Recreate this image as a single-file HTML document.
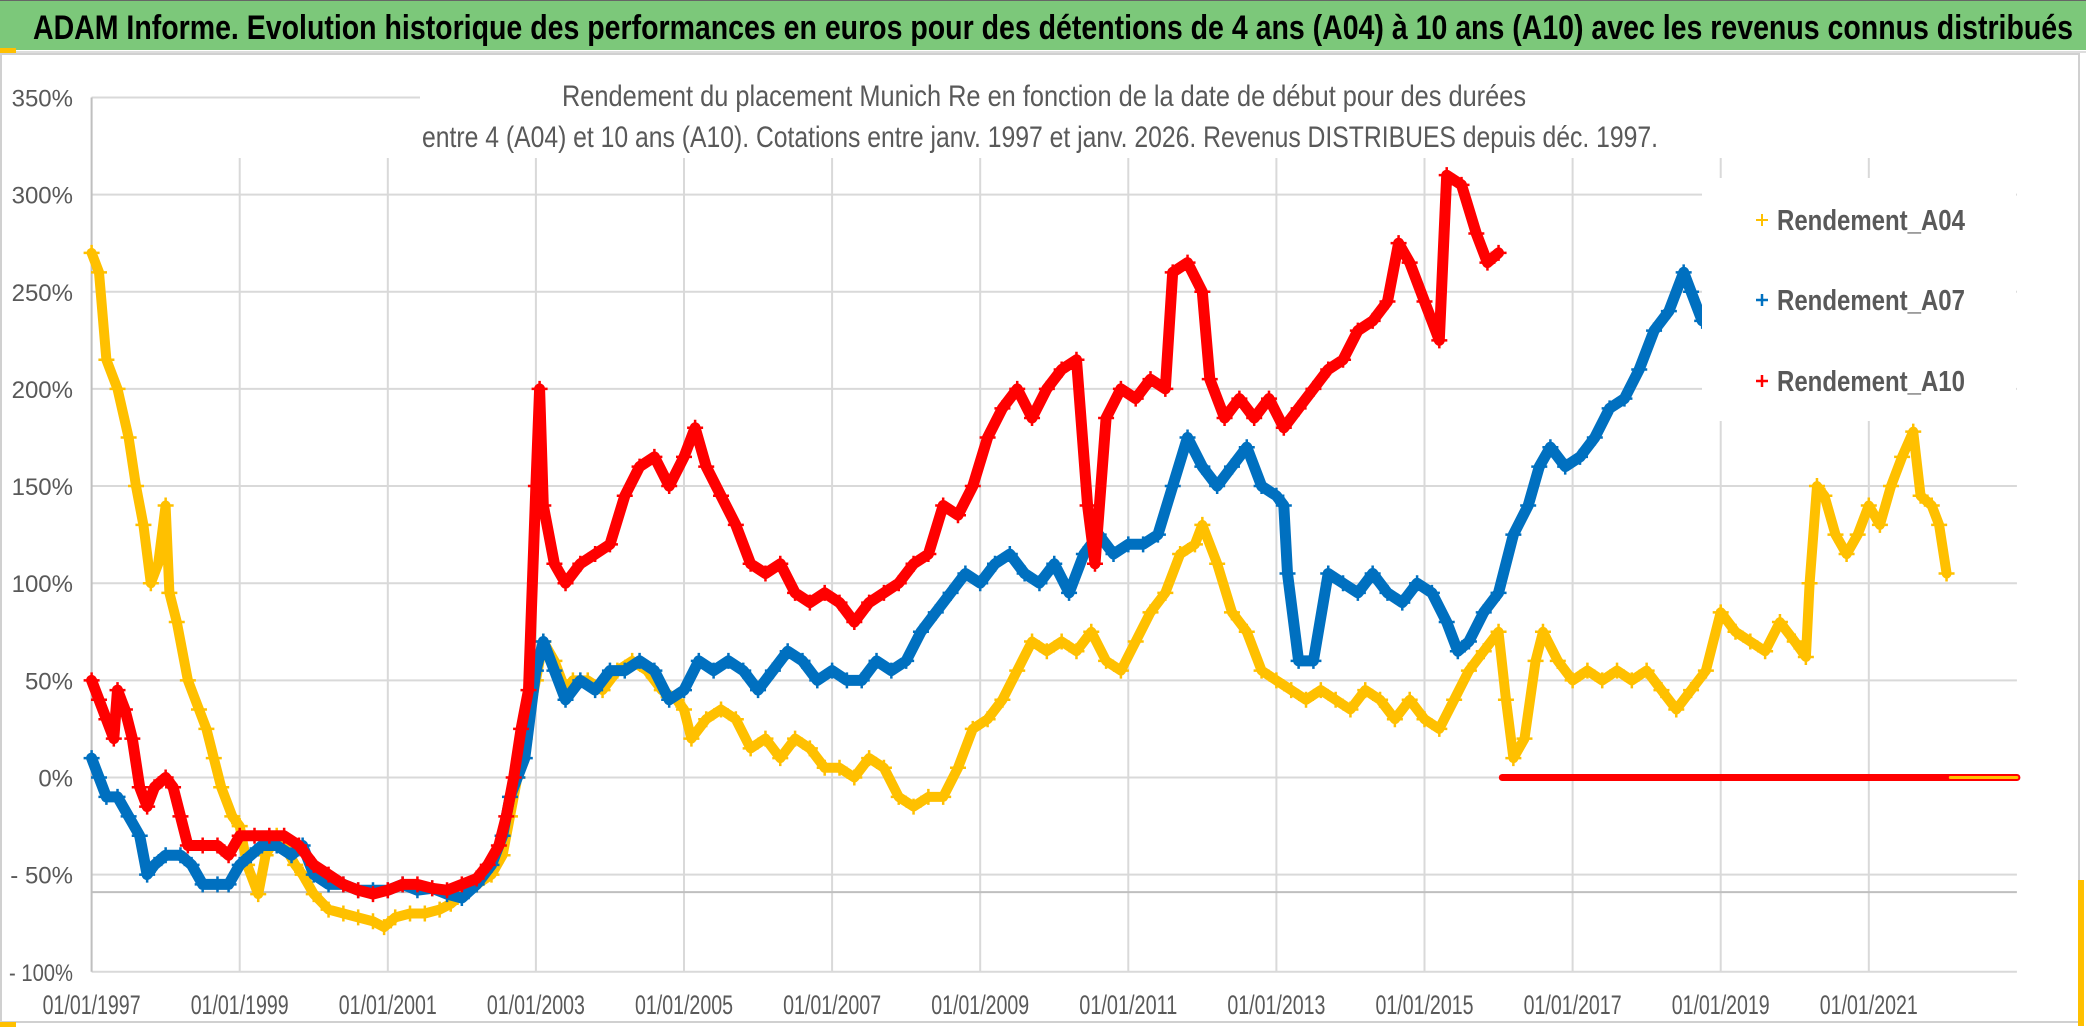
<!DOCTYPE html>
<html><head><meta charset="utf-8"><style>
html,body{margin:0;padding:0;background:#fff;}
svg{display:block;font-family:"Liberation Sans Narrow","Liberation Sans",sans-serif;}
</style></head><body>
<svg id="chart" width="2086" height="1031" viewBox="0 0 2086 1031" xmlns="http://www.w3.org/2000/svg">
<rect x="0" y="0" width="2086" height="1031" fill="#fff"/>
<rect x="0" y="0" width="2086" height="50" fill="#7cc87a"/>
<line x1="0" y1="0.5" x2="2086" y2="0.5" stroke="#666"/>
<line x1="0" y1="52" x2="2086" y2="52" stroke="#ddd" stroke-width="2"/>
<rect x="0" y="48" width="16" height="5" fill="#ffc000"/>
<text x="33" y="39" font-size="34" font-weight="bold" fill="#000" textLength="2040" lengthAdjust="spacingAndGlyphs">ADAM Informe. Evolution historique des performances en euros pour des détentions de 4 ans (A04) à 10 ans (A10) avec les revenus connus distribués</text>
<rect x="1" y="54" width="2078" height="968" fill="none" stroke="#d0d0d0" stroke-width="2"/>
<rect x="2078" y="880" width="6" height="146" fill="#ffc000"/>
<rect x="0" y="1022" width="16" height="5" fill="#ffc000"/>
<g id="grid"></g>
<g id="series"></g>
<rect x="420" y="62" width="1300" height="96" fill="#fff"/>
<text x="1044" y="106" font-size="30" fill="#595959" text-anchor="middle" textLength="964" lengthAdjust="spacingAndGlyphs">Rendement du placement Munich Re en fonction de la date de début pour des durées</text>
<text x="1040" y="147" font-size="30" fill="#595959" text-anchor="middle" textLength="1236" lengthAdjust="spacingAndGlyphs">entre 4 (A04) et 10 ans (A10). Cotations entre janv. 1997 et janv. 2026. Revenus DISTRIBUES depuis déc. 1997.</text>
<g>
<rect x="1702" y="178" width="314" height="243" fill="#fff"/>
<g><path d="M1756 220h12M1762 214v12" stroke="#ffc000" stroke-width="2"/><text x="1777" y="230" font-size="29" font-weight="bold" fill="#595959" textLength="188" lengthAdjust="spacingAndGlyphs">Rendement_A04</text></g>
<g><path d="M1756 300h12M1762 294v12" stroke="#0070c0" stroke-width="2.5"/><text x="1777" y="310" font-size="29" font-weight="bold" fill="#595959" textLength="188" lengthAdjust="spacingAndGlyphs">Rendement_A07</text></g>
<g><path d="M1756 381h12M1762 375v12" stroke="#ff0000" stroke-width="2.5"/><text x="1777" y="391" font-size="29" font-weight="bold" fill="#595959" textLength="188" lengthAdjust="spacingAndGlyphs">Rendement_A10</text></g>
</g>
</svg>
<script>
const yTicks = [350,300,250,200,150,100,50,0,-50,-100];
const yTickLabels = ["350%","300%","250%","200%","150%","100%","50%","0%","- 50%","- 100%"];
const xTicks = [1997,1999,2001,2003,2005,2007,2009,2011,2013,2015,2017,2019,2021];
const xTickLabels = ["01/01/1997","01/01/1999","01/01/2001","01/01/2003","01/01/2005","01/01/2007","01/01/2009","01/01/2011","01/01/2013","01/01/2015","01/01/2017","01/01/2019","01/01/2021"];
const axisCrossing = -59;

const a04Dates = [1997.0,1997.1,1997.2,1997.35,1997.5,1997.6,1997.7,1997.8,1997.9,1998.0,1998.05,1998.15,1998.3,1998.45,1998.55,1998.65,1998.75,1998.9,1999.0,1999.1,1999.25,1999.35,1999.5,1999.6,1999.75,1999.85,2000.0,2000.2,2000.4,2000.6,2000.8,2000.95,2001.1,2001.3,2001.5,2001.7,2001.85,2002.0,2002.2,2002.4,2002.55,2002.65,2002.75,2002.85,2003.0,2003.1,2003.25,2003.4,2003.5,2003.7,2003.9,2004.1,2004.3,2004.5,2004.7,2004.9,2005.0,2005.1,2005.3,2005.5,2005.7,2005.9,2006.1,2006.3,2006.5,2006.7,2006.9,2007.1,2007.3,2007.5,2007.7,2007.9,2008.1,2008.3,2008.5,2008.7,2008.9,2009.1,2009.3,2009.5,2009.7,2009.9,2010.1,2010.3,2010.5,2010.7,2010.9,2011.1,2011.3,2011.5,2011.7,2011.9,2012.0,2012.2,2012.4,2012.6,2012.8,2013.0,2013.2,2013.4,2013.6,2013.8,2014.0,2014.2,2014.4,2014.6,2014.8,2015.0,2015.2,2015.4,2015.6,2015.8,2016.0,2016.1,2016.2,2016.35,2016.5,2016.6,2016.8,2017.0,2017.2,2017.4,2017.6,2017.8,2018.0,2018.2,2018.4,2018.6,2018.8,2019.0,2019.2,2019.4,2019.6,2019.8,2020.0,2020.15,2020.2,2020.3,2020.4,2020.55,2020.7,2020.85,2021.0,2021.15,2021.3,2021.45,2021.6,2021.7,2021.85,2021.95,2022.05];
const a04Values = [270,260,215,200,175,150,130,100,110,140,95,80,50,35,25,10,-5,-20,-25,-45,-60,-40,-30,-35,-45,-50,-60,-68,-70,-72,-74,-77,-72,-70,-70,-68,-65,-60,-55,-50,-40,-20,0,20,50,70,60,45,50,50,45,55,60,55,45,40,35,20,30,35,30,15,20,10,20,15,5,5,0,10,5,-10,-15,-10,-10,5,25,30,40,55,70,65,70,65,75,60,55,70,85,95,115,120,130,110,85,75,55,50,45,40,45,40,35,45,40,30,40,30,25,40,55,65,75,40,10,20,60,75,60,50,55,50,55,50,55,45,35,45,55,85,75,70,65,80,70,62,100,150,145,125,115,125,140,130,150,165,178,145,140,130,105];
const a04ZeroDates = [2022.1,2023.0];
const a04ZeroValues = [0,0];

const a07Dates = [1997.0,1997.1,1997.2,1997.35,1997.5,1997.65,1997.75,1997.85,1998.0,1998.2,1998.35,1998.5,1998.7,1998.85,1999.0,1999.15,1999.3,1999.5,1999.7,1999.85,2000.0,2000.2,2000.4,2000.6,2000.8,2001.0,2001.2,2001.4,2001.6,2001.8,2002.0,2002.2,2002.4,2002.55,2002.65,2002.75,2002.85,2003.0,2003.1,2003.25,2003.4,2003.6,2003.8,2004.0,2004.2,2004.4,2004.6,2004.8,2005.0,2005.2,2005.4,2005.6,2005.8,2006.0,2006.2,2006.4,2006.6,2006.8,2007.0,2007.2,2007.4,2007.6,2007.8,2008.0,2008.2,2008.4,2008.6,2008.8,2009.0,2009.2,2009.4,2009.6,2009.8,2010.0,2010.2,2010.4,2010.6,2010.8,2011.0,2011.2,2011.4,2011.6,2011.8,2012.0,2012.2,2012.4,2012.6,2012.8,2013.0,2013.1,2013.15,2013.3,2013.5,2013.7,2013.9,2014.1,2014.3,2014.5,2014.7,2014.9,2015.1,2015.3,2015.45,2015.6,2015.8,2016.0,2016.2,2016.4,2016.55,2016.7,2016.9,2017.1,2017.3,2017.5,2017.7,2017.9,2018.1,2018.3,2018.5,2018.6,2018.75];
const a07Values = [10,0,-10,-10,-20,-30,-50,-45,-40,-40,-45,-55,-55,-55,-45,-40,-35,-35,-40,-35,-50,-55,-55,-58,-58,-58,-55,-58,-57,-60,-62,-55,-45,-30,-10,0,10,55,70,55,40,50,45,55,55,60,55,40,45,60,55,60,55,45,55,65,60,50,55,50,50,60,55,60,75,85,95,105,100,110,115,105,100,110,95,115,125,115,120,120,125,150,175,160,150,160,170,150,145,140,105,60,60,105,100,95,105,95,90,100,95,80,65,70,85,95,125,140,160,170,160,165,175,190,195,210,230,240,260,250,235];

const a10Dates = [1997.0,1997.1,1997.2,1997.3,1997.35,1997.45,1997.55,1997.65,1997.75,1997.85,1998.0,1998.1,1998.2,1998.3,1998.5,1998.7,1998.85,1999.0,1999.2,1999.4,1999.6,1999.8,2000.0,2000.2,2000.4,2000.6,2000.8,2001.0,2001.2,2001.4,2001.6,2001.8,2002.0,2002.2,2002.35,2002.5,2002.6,2002.7,2002.8,2002.9,2003.0,2003.05,2003.1,2003.25,2003.4,2003.6,2003.8,2004.0,2004.2,2004.4,2004.6,2004.8,2005.0,2005.15,2005.3,2005.5,2005.7,2005.9,2006.1,2006.3,2006.5,2006.7,2006.9,2007.1,2007.3,2007.5,2007.7,2007.9,2008.1,2008.3,2008.5,2008.7,2008.9,2009.1,2009.3,2009.5,2009.7,2009.9,2010.1,2010.3,2010.45,2010.55,2010.7,2010.9,2011.1,2011.3,2011.5,2011.6,2011.8,2012.0,2012.1,2012.3,2012.5,2012.7,2012.9,2013.1,2013.3,2013.5,2013.7,2013.9,2014.1,2014.3,2014.5,2014.65,2014.8,2015.0,2015.2,2015.3,2015.5,2015.7,2015.85,2016.0];
const a10Values = [50,40,30,20,45,35,20,-5,-15,-5,0,-5,-20,-35,-35,-35,-40,-30,-30,-30,-30,-35,-45,-50,-55,-58,-60,-58,-55,-55,-57,-58,-55,-52,-45,-35,-20,0,25,45,150,200,140,110,100,110,115,120,145,160,165,150,165,180,160,145,130,110,105,110,95,90,95,90,80,90,95,100,110,115,140,135,150,175,190,200,185,200,210,215,140,110,185,200,195,205,200,260,265,250,205,185,195,185,195,180,190,200,210,215,230,235,245,275,265,245,225,310,305,280,265,270];
const a10ZeroDates = [2016.05,2023.0];
const a10ZeroValues = [0,0];

const X0 = 91.6, PX_PER_YEAR = 74.05, Y0 = 777.5, PX_PER_PCT = 1.943;
function xs(t){ return X0 + (t - 1997) * PX_PER_YEAR; }
function ys(v){ return Y0 - v * PX_PER_PCT; }
const NS = "http://www.w3.org/2000/svg";
const grid = document.getElementById('grid');
const series = document.getElementById('series');
const xEnd = xs(2023.0);

yTicks.forEach((v,i)=>{
  const l = document.createElementNS(NS,'line');
  l.setAttribute('x1',X0); l.setAttribute('x2', v===350 ? 420 : xEnd);
  l.setAttribute('y1',ys(v)); l.setAttribute('y2',ys(v));
  l.setAttribute('stroke','#d9d9d9'); l.setAttribute('stroke-width','2');
  
  
  grid.appendChild(l);
  const t = document.createElementNS(NS,'text');
  t.setAttribute('x',73); t.setAttribute('y',ys(v)+9);
  t.setAttribute('text-anchor','end'); t.setAttribute('font-size','24'); t.setAttribute('fill','#595959');
  if (yTickLabels[i].length > 5) { t.setAttribute('textLength','64'); t.setAttribute('lengthAdjust','spacingAndGlyphs'); }
  t.textContent = yTickLabels[i];
  
  
  grid.appendChild(t);
});
xTicks.forEach((yr,i)=>{
  const l = document.createElementNS(NS,'line');
  l.setAttribute('x1',xs(yr)); l.setAttribute('x2',xs(yr));
  l.setAttribute('y1', yr===1997 ? ys(350) : 158); l.setAttribute('y2',ys(-100));
  l.setAttribute('stroke', yr===1997 ? '#bfbfbf' : '#d9d9d9'); l.setAttribute('stroke-width','2');
  
  
  grid.appendChild(l);
  const t = document.createElementNS(NS,'text');
  t.setAttribute('x',xs(yr)); t.setAttribute('y',1014);
  t.setAttribute('text-anchor','middle'); t.setAttribute('font-size','27'); t.setAttribute('fill','#595959');
  t.setAttribute('textLength','98'); t.setAttribute('lengthAdjust','spacingAndGlyphs');
  t.textContent = xTickLabels[i];
  
  
  grid.appendChild(t);
});
const ax = document.createElementNS(NS,'line');
ax.setAttribute('x1',X0); ax.setAttribute('x2',xEnd);
ax.setAttribute('y1',ys(axisCrossing)); ax.setAttribute('y2',ys(axisCrossing));
ax.setAttribute('stroke','#bfbfbf'); ax.setAttribute('stroke-width','2');


grid.appendChild(ax);

function drawSeries(dates, values, color, name, lw, markers){
  const g = document.createElementNS(NS,'g');
  
  
  let pts = dates.map((d,i)=> xs(d).toFixed(1)+','+ys(values[i]).toFixed(1)).join(' ');
  const pl = document.createElementNS(NS,'polyline');
  pl.setAttribute('points',pts); pl.setAttribute('fill','none');
  pl.setAttribute('stroke',color); pl.setAttribute('stroke-width',lw);
  pl.setAttribute('stroke-linejoin','round'); pl.setAttribute('stroke-linecap','round');
  
  
  g.appendChild(pl);
  if(markers){
    let d = '';
    dates.forEach((t,i)=>{
      const x = xs(t), y = ys(values[i]);
      d += 'M'+(x-8)+' '+y+'h16M'+x+' '+(y-8)+'v16';
    });
    const p = document.createElementNS(NS,'path');
    p.setAttribute('d',d); p.setAttribute('stroke',color); p.setAttribute('stroke-width','2.5'); p.setAttribute('fill','none');
    
    
    g.appendChild(p);
  }
  series.appendChild(g);
}
drawSeries(a04Dates, a04Values, '#ffc000', 'series-a04', 10, true);
drawSeries(a07Dates, a07Values, '#0070c0', 'series-a07', 11, true);
drawSeries(a10Dates, a10Values, '#ff0000', 'series-a10', 11, true);
drawSeries(a10ZeroDates, a10ZeroValues, '#ff0000', 'series-a10-zero', 7, false);
drawSeries(a04ZeroDates, a04ZeroValues, '#ffc000', 'series-a04-zero', 3, false);
</script>
</body></html>
